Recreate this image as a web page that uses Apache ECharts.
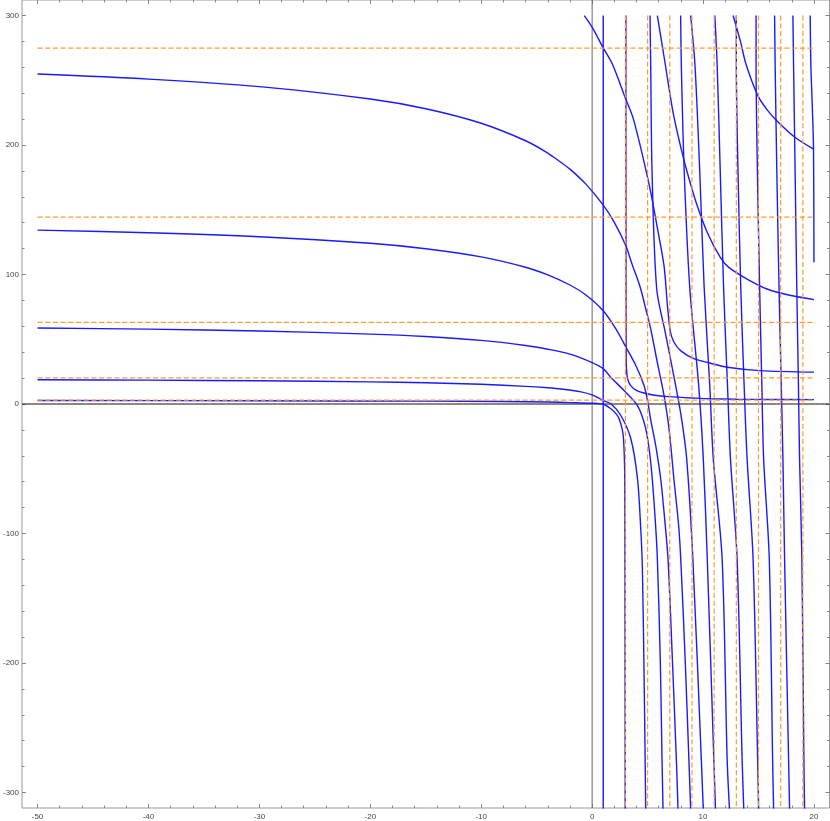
<!DOCTYPE html>
<html>
<head>
<meta charset="utf-8">
<script src="https://cdn.jsdelivr.net/npm/echarts@6/dist/echarts.min.js"></script>
<style>
  html, body { margin: 0; padding: 0; background: #fff; }
  #chart { width: 830px; height: 821px; }
</style>
</head>
<body>
<div id="chart"></div>
<script>
const xRange = [-51.4, 21.4]
const yRange = [-312, 312]
const xMajorTicks = [-50, -40, -30, -20, -10, 0, 10, 20]
const yMajorTicks = [-300, -200, -100, 0, 100, 200, 300]

// branches coming in flat from the left, diving down right of x = 0
const branchL1 = [[-50, 254.8], [-40, 250.9], [-30, 245.1], [-20, 235.5], [-15, 228], [-10, 216.8], [-6, 203.3], [-4, 193.8], [-2.8, 186.5], [-2, 181.4], [-0.56, 169.8], [1, 153.6], [2, 140.3], [3.04, 122.2], [3.6, 108], [4.09, 96.5], [4.38, 88.8], [4.85, 73], [5.28, 58], [5.88, 32], [6.48, 6.6], [6.93, -19], [7.37, -57.7], [7.82, -96], [8.03, -127], [8.4, -200], [8.72, -273.7], [8.88, -312.6]]
const branchL2 = [[-50, 134.3], [-40, 132.3], [-30, 129.2], [-20, 124.1], [-15, 119.9], [-10, 113.6], [-6, 105.6], [-4, 99.7], [-2, 91.9], [-0.56, 84.2], [1, 72], [2.14, 58], [3.04, 44], [3.94, 29.7], [4.68, 14.3], [4.99, 2.7], [5.28, -12], [5.73, -32], [6.18, -57.7], [6.48, -83.3], [6.84, -119.5], [7.2, -190], [7.59, -273.7], [7.74, -312.6]]
const branchL3 = [[-50, 58.7], [-40, 57.8], [-30, 56.4], [-20, 54], [-15, 52.1], [-10, 49.1], [-6, 45.2], [-4, 42.3], [-2, 38.5], [0, 32], [1, 27.3], [1.69, 20.5], [2.88, 10.4], [4.09, -1.2], [4.83, -19], [5.28, -44.8], [5.64, -83], [5.88, -119.5], [6.15, -200], [6.3, -273.7], [6.39, -312.6]]
const branchL4 = [[-50, 18.7], [-40, 18.4], [-30, 17.9], [-20, 17.1], [-15, 16.4], [-10, 15.2], [-6, 13.6], [-4, 12.5], [-2.8, 11.6], [-1, 9.4], [0, 7], [1, 2.7], [1.69, 0.2], [2.59, -8.9], [3.49, -26.8], [4.09, -57.7], [4.38, -96], [4.53, -127], [4.7, -220], [4.83, -312.6]]
const branchL5 = [[-50, 2.7], [-30, 2.5], [-15, 2.2], [-8, 1.9], [-4, 1.5], [-2, 1.1], [0, 0.6], [1, -0.2], [1.69, -3.7], [2.2, -8], [2.43, -11.4], [2.7, -19], [2.83, -27], [2.93, -50], [2.95, -75], [2.96, -127], [2.97, -220], [2.98, -312.6]]

// branches falling from the top and levelling off to the right
const branchR1 = [[3.04, 300], [3.05, 100], [3.07, 35], [3.12, 24], [3.25, 18], [3.5, 14], [3.94, 10.8], [4.68, 8.5], [5.5, 7], [6.93, 5.7], [9.33, 4.5], [10.67, 4], [13, 3.7], [16, 3.5], [20, 3.4]]
const branchR2 = [[-0.71, 300], [0, 291], [1, 275], [1.84, 262.2], [3.04, 235.3], [3.73, 219.8], [5.13, 169.8], [5.9, 135], [6.48, 106.8], [6.8, 75], [7.05, 56], [7.38, 47.7], [8, 41], [9.17, 35], [10.67, 31.5], [12.17, 28.4], [15.17, 25.8], [20, 24.6]]
const branchR3 = [[5.88, 300], [6.6, 262], [7.3, 225], [8, 198], [8.58, 178.8], [9.4, 155], [10.38, 132.5], [11.57, 113], [12.32, 105.5], [13.97, 96.5], [15.77, 88.8], [17.8, 84], [20, 80.6]]
const branchR4 = [[12.71, 300], [13.37, 280], [13.88, 262.2], [14.96, 237.8], [15.8, 227], [16.67, 218.6], [18.31, 205.8], [20, 196.7]]

// near-vertical branches
const branchV0 = [[1, 300], [1, -312.6]]
const branchV1 = [[5.22, 300], [5.28, 262], [5.4, 180], [5.82, 89], [6.6, 55], [7.4, 20], [8, -8], [8.52, -42], [9.08, -119.5], [9.84, -273.7], [10.02, -312.6]]
const branchV2 = [[7.98, 300], [8.04, 262], [8.3, 180], [8.8, 90], [9.6, 15], [10.02, -42], [10.38, -119.5], [10.97, -273.7], [11.12, -312.6]]
const branchV3 = [[8.88, 300], [9.27, 262], [9.7, 180], [10.1, 90], [10.6, 15], [10.92, -42], [11.72, -119.5], [12.17, -273.7], [12.38, -312.6]]
const branchV4 = [[11.06, 300], [11.27, 262], [11.55, 180], [11.85, 90], [12.2, 15], [12.47, -42], [13.07, -119.5], [13.52, -273.7], [13.67, -312.6]]
const branchV5 = [[13, 300], [13, 262], [13.15, 180], [13.4, 90], [13.7, 15], [13.97, -42], [14.51, -119.5], [14.92, -273.7], [15.01, -312.6]]
const branchV6 = [[14.78, 300], [14.78, 262], [14.9, 180], [15.1, 90], [15.3, 15], [15.46, -42], [15.97, -119.5], [16.27, -273.7], [16.36, -312.6]]
const branchV7 = [[16.45, 300], [16.5, 262], [16.65, 180], [16.85, 90], [17.05, 15], [17.2, -42], [17.35, -119.5], [17.71, -273.7], [17.8, -312.6]]
const branchV8 = [[18.1, 300], [18.16, 262], [18.3, 180], [18.45, 90], [18.6, 15], [18.7, -42], [18.91, -119.5], [19.09, -273.7], [19.15, -312.6]]
const branchV9 = [[19.66, 300], [19.72, 262], [19.85, 230], [19.96, 196], [20, 109.5]]

// dashed asymptotes
const hAsymptotes = [274.8, 144.3, 63.1, 20.2, 3.0]
const vAsymptotes = [3, 5, 7, 9, 11, 13, 15, 17, 19]
const asymXSpan = [-50, 20]
const asymYSpan = [300, -312.6]

const BLUE = '#1a1aff'
const ORANGE = '#ff9a2e'

const blueBranches = [branchL1, branchL2, branchL3, branchL4, branchL5,
  branchR1, branchR2, branchR3, branchR4,
  branchV0, branchV1, branchV2, branchV3, branchV4, branchV5, branchV6, branchV7, branchV8, branchV9]

const minorX = []
for (let v = -50; v <= 20; v += 2) if (v % 10 !== 0) minorX.push(v)
const minorY = []
for (let v = -300; v <= 300; v += 20) if (v % 100 !== 0) minorY.push(v)

const lineSeries = (data, color, width, dashed, z) => ({
  type: 'line',
  data: data,
  showSymbol: false,
  symbol: 'none',
  silent: true,
  z: z,
  smooth: dashed ? false : 0.3,
  lineStyle: {
    color: color,
    width: width,
    type: dashed ? [5, 2.7] : 'solid'
  }
})

const series = []
// coordinate axes through the origin
series.push(lineSeries([[xRange[0], 0], [xRange[1], 0]], '#111', 1, false, 1))
series.push(lineSeries([[0, yRange[0]], [0, yRange[1]]], '#666', 1, false, 1))
blueBranches.forEach(b => series.push(lineSeries(b, BLUE, 1.4, false, 2)))
hAsymptotes.forEach(h => series.push(lineSeries([[asymXSpan[0], h], [asymXSpan[1], h]], ORANGE, 1.2, true, 3)))
vAsymptotes.forEach(v => series.push(lineSeries([[v, asymYSpan[0]], [v, asymYSpan[1]]], ORANGE, 1.2, true, 3)))

const fmt = v => String(v)
const tickColor = '#888'

const mkX = (pos, values, len, labels) => ({
  type: 'value', position: pos, min: xRange[0], max: xRange[1],
  axisLine: { show: false, onZero: false },
  splitLine: { show: false },
  axisTick: { show: true, inside: true, length: len, customValues: values, lineStyle: { color: tickColor } },
  axisLabel: labels
    ? { show: true, customValues: values, fontSize: 8, color: '#444', margin: 5, fontFamily: 'Liberation Sans', formatter: fmt }
    : { show: false }
})
const mkY = (pos, values, len, labels) => ({
  type: 'value', position: pos, min: yRange[0], max: yRange[1],
  axisLine: { show: false, onZero: false },
  splitLine: { show: false },
  axisTick: { show: true, inside: true, length: len, customValues: values, lineStyle: { color: tickColor } },
  axisLabel: labels
    ? { show: true, customValues: values, fontSize: 8, color: '#444', margin: 3, fontFamily: 'Liberation Sans', formatter: fmt }
    : { show: false }
})

const chart = echarts.init(document.getElementById('chart'), null, { renderer: 'canvas' })
chart.setOption({
  animation: false,
  backgroundColor: '#fff',
  grid: { left: 20, right: 0.5, top: 0, bottom: 11.5, show: true, borderColor: '#999', borderWidth: 1 },
  xAxis: [
    mkX('bottom', xMajorTicks, 4, true),
    mkX('bottom', minorX, 2.5, false),
    mkX('top', xMajorTicks, 4, false),
    mkX('top', minorX, 2.5, false)
  ],
  yAxis: [
    mkY('left', yMajorTicks, 4, true),
    mkY('left', minorY, 2.5, false),
    mkY('right', yMajorTicks, 4, false),
    mkY('right', minorY, 2.5, false)
  ],
  series: series
})
</script>
</body>
</html>
